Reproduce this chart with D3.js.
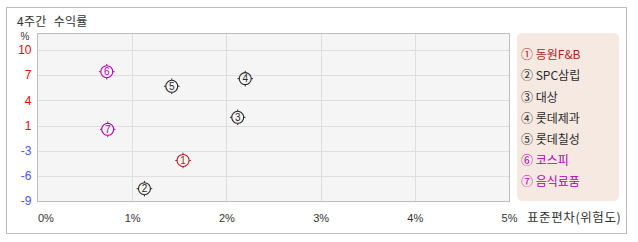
<!DOCTYPE html>
<html>
<head>
<meta charset="utf-8">
<script src="https://cdn.jsdelivr.net/npm/d3@7"></script>
<style>
    body { margin: 0; background: #ffffff; }
    svg text { font-family: "Noto Sans CJK KR", "Noto Sans", sans-serif; }
</style>
</head>
<body>
<div id="chart"></div>
<script>

/****************************
  * Data
  ***************************/

var labels = ['동원F&B', 'SPC삼립', '대상', '롯데제과', '롯데칠성', '코스피', '음식료품'];
var marks = ['①', '②', '③', '④', '⑤', '⑥', '⑦'];
var groups = ['focus', 'peer', 'peer', 'peer', 'peer', 'market', 'market'];

// x: standard deviation (%), y: 4 week return (%)
var riskValues = [1.54, 1.13, 2.12, 2.20, 1.42, 0.73, 0.74];
var returnValues = [-3.9, -7.45, 1.53, 6.4, 5.43, 7.27, 0.02];

var xTicks = [0, 1, 2, 3, 4, 5];
var yDomain = [-9, 10];
var yIntervals = 6;

var title = '4주간 수익률';
var xTitle = '표준편차(위험도)';
var yUnit = '%';

/****************************
  * Stylesheet
  ***************************/

var stylesheet = {};
stylesheet['text'] = '#333333';
stylesheet['border'] = '#bdbdbd';
stylesheet['plotFill'] = '#f5f5f5';
stylesheet['grid'] = '#dedede';
stylesheet['legendFill'] = '#f6e9e2';
stylesheet['positive'] = '#ff0000';
stylesheet['negative'] = '#4455ff';
stylesheet['focus'] = '#b01e23';
stylesheet['peer'] = '#2a2a2a';
stylesheet['market'] = '#b400b4';

function style(attribute) {
    return stylesheet[attribute];
}

/****************************
  * Canvas
  ***************************/

var width = 638, height = 242;
var plot = { left: 38, right: 509, top: 34, bottom: 201, valueTop: 50 };

var svg = d3.select('#chart').append('svg')
    .attr('width', width)
    .attr('height', height);

// outer frame
svg.append('rect')
    .attr('x', 6.5).attr('y', 7.5)
    .attr('width', 620).attr('height', 226)
    .style('fill', '#ffffff')
    .style('stroke', style('border'));

svg.append('text')
    .attr('x', 17).attr('y', 26)
    .style('font-size', '12px')
    .style('word-spacing', '4px')
    .style('letter-spacing', '0.3px')
    .style('fill', style('text'))
    .text(title);

/****************************
  * Scales
  ***************************/

var x = d3.scaleLinear().domain([xTicks[0], xTicks[xTicks.length - 1]])
    .range([plot.left, plot.right]);
var y = d3.scaleLinear().domain(yDomain).range([plot.bottom, plot.valueTop]);

// the y ticks split the domain evenly, labels are rounded
var yTicks = d3.range(yIntervals + 1).map(function(i) {
    return yDomain[0] + i * (yDomain[1] - yDomain[0]) / yIntervals;
});

/****************************
  * Plot area
  ***************************/

svg.append('rect')
    .attr('x', plot.left - 0.5).attr('y', plot.top - 0.5)
    .attr('width', plot.right - plot.left + 1)
    .attr('height', plot.bottom - plot.top + 1)
    .style('fill', style('plotFill'));

// grid
svg.append('g')
    .selectAll('line')
    .data(yTicks.slice(1))
    .enter().append('line')
    .attr('x1', plot.left).attr('x2', plot.right)
    .attr('y1', function(d) { return Math.round(y(d)) + 0.5; })
    .attr('y2', function(d) { return Math.round(y(d)) + 0.5; })
    .style('stroke', style('grid'));

svg.append('g')
    .selectAll('line')
    .data(xTicks.slice(1, -1))
    .enter().append('line')
    .attr('x1', function(d) { return Math.round(x(d)) + 0.5; })
    .attr('x2', function(d) { return Math.round(x(d)) + 0.5; })
    .attr('y1', plot.top).attr('y2', plot.bottom)
    .style('stroke', style('grid'));

svg.append('rect')
    .attr('x', plot.left - 0.5).attr('y', plot.top - 0.5)
    .attr('width', plot.right - plot.left + 1)
    .attr('height', plot.bottom - plot.top + 1)
    .style('fill', 'none')
    .style('stroke', style('border'));

// y axis labels
svg.append('g')
    .selectAll('text')
    .data(yTicks)
    .enter().append('text')
    .attr('x', 31.5)
    .attr('y', function(d) { return y(d); })
    .attr('dy', '0.36em')
    .attr('text-anchor', 'end')
    .style('font-family', '"Liberation Sans", sans-serif')
    .style('font-size', '12px')
    .style('fill', function(d) { return d > 0 ? style('positive') : style('negative'); })
    .text(function(d) { return Math.round(d); });

svg.append('text')
    .attr('x', 25).attr('y', 39.5)
    .attr('text-anchor', 'middle')
    .style('font-family', '"Liberation Sans", sans-serif')
    .style('font-size', '10px')
    .style('fill', style('text'))
    .text(yUnit);

// x axis labels
svg.append('g')
    .selectAll('text')
    .data(xTicks)
    .enter().append('text')
    .attr('x', function(d, i) { return i === 0 ? x(d) : x(d) + 0.5; })
    .attr('y', 221.5)
    .attr('text-anchor', function(d, i) { return i === 0 ? 'start' : 'middle'; })
    .style('font-family', '"Liberation Sans", sans-serif')
    .style('font-size', '11px')
    .style('fill', style('text'))
    .text(function(d) { return d + '%'; });

svg.append('text')
    .attr('x', 527).attr('y', 222)
    .style('font-size', '12.5px')
    .style('letter-spacing', '0.6px')
    .style('fill', style('text'))
    .text(xTitle);

/****************************
  * Points
  ***************************/

var r = 6;
var points = svg.append('g')
    .selectAll('g')
    .data(labels)
    .enter().append('g')
    .attr('transform', function(d, i) {
        return 'translate(' + x(riskValues[i]) + ',' + y(returnValues[i]) + ')';
    })
    .style('stroke', function(d, i) { return style(groups[i]); });

points.append('circle')
    .attr('r', r)
    .style('fill', 'none')
    .style('stroke-width', 1.1);

// little crosshair ticks round each point
[[0, -1], [0, 1], [-1, 0], [1, 0]].forEach(function(dir) {
    points.append('line')
        .attr('x1', dir[0] * r).attr('y1', dir[1] * r)
        .attr('x2', dir[0] * (r + 1.8)).attr('y2', dir[1] * (r + 1.8))
        .style('stroke-width', 1);
});

points.append('text')
    .attr('dy', '0.36em')
    .attr('text-anchor', 'middle')
    .style('font-family', '"Liberation Sans", sans-serif')
    .style('font-size', '10px')
    .style('stroke', 'none')
    .style('fill', function(d, i) { return style(groups[i]); })
    .text(function(d, i) { return i + 1; });

/****************************
  * Legend
  ***************************/

svg.append('rect')
    .attr('x', 517).attr('y', 33)
    .attr('width', 102).attr('height', 168)
    .attr('rx', 5)
    .style('fill', style('legendFill'));

svg.append('g')
    .selectAll('text')
    .data(labels)
    .enter().append('text')
    .attr('x', 521)
    .attr('y', function(d, i) { return 55 + i * 21.1; })
    .attr('dy', '0.36em')
    .style('font-size', '12px')
    .style('fill', function(d, i) { return style(groups[i]); })
    .text(function(d, i) { return marks[i] + ' ' + d; });

</script>
</body>
</html>
